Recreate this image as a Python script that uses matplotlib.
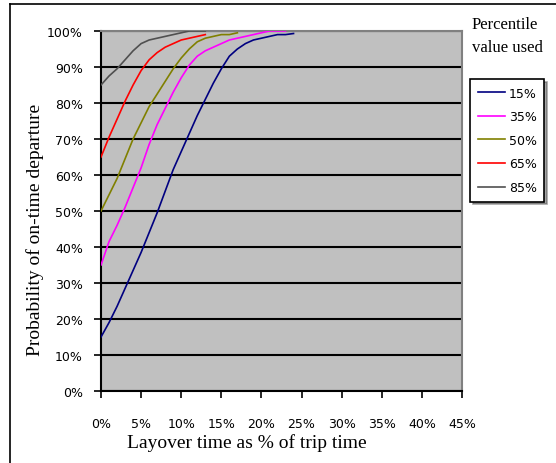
import matplotlib
matplotlib.use("Agg")
import matplotlib.pyplot as plt
from matplotlib.ticker import FuncFormatter, MultipleLocator
from matplotlib.lines import Line2D

# layover time (% of trip time) and probability of on-time departure (%)
labels = ['15%', '35%', '50%', '65%', '85%']
colors = ['#000080', '#FF00FF', '#808000', '#FF0000', '#505050']

p15 = [15, 19, 23.5, 28.5, 33.5, 38.5, 44, 49.5, 55.5, 61.5, 66.5, 71.5, 76.5,
       81, 85.5, 89.5, 93, 95, 96.5, 97.5, 98, 98.5, 99, 99, 99.3]
p35 = [35, 41.5, 46, 51, 56.5, 62, 68.5, 74, 78.5, 83, 87, 90.5, 93, 94.5,
       95.5, 96.5, 97.5, 98, 98.5, 99, 99.5, 100, 100, 100]
p50 = [50, 54.5, 59, 64.5, 70, 74.5, 79, 82.5, 86, 89.5, 92.5, 95, 97, 98,
       98.5, 99, 99, 99.5]
p65 = [65, 70.5, 75.5, 80.5, 85, 89, 92, 94, 95.5, 96.5, 97.5, 98, 98.5, 99]
p85 = [85, 87.5, 89.5, 92, 94.5, 96.5, 97.5, 98, 98.5, 99, 99.5, 100, 100, 100]
series = [p15, p35, p50, p65, p85]

W, H = 556, 464
fig = plt.figure(figsize=(W / 100, H / 100), dpi=100)
ax = fig.add_axes([101 / W, 1 - 392 / H, 361 / W, 360 / H])
ax.set_facecolor('#C0C0C0')

for ys, c, lab in zip(series, colors, labels):
    xs = list(range(len(ys)))
    ax.plot(xs, ys, color=c, lw=1.2, label=lab, zorder=3)

ax.set_xlim(0, 45)
ax.set_ylim(0, 100)
ax.xaxis.set_major_locator(MultipleLocator(5))
ax.yaxis.set_major_locator(MultipleLocator(10))
pct = FuncFormatter(lambda v, pos: '%d%%' % v)
ax.xaxis.set_major_formatter(pct)
ax.yaxis.set_major_formatter(pct)
ax.grid(axis='y', color='black', lw=1.5, zorder=1)
ax.set_axisbelow(True)
ax.tick_params(direction='out', length=5, width=1.2, labelsize=9, pad=3)
ax.tick_params(axis='x', pad=14)
ax.tick_params(axis='y', pad=8)
for s in ['left', 'bottom']:
    ax.spines[s].set_linewidth(1.5)
for s in ['top', 'right']:
    ax.spines[s].set_color('#808080')
    ax.spines[s].set_linewidth(1.5)

serif = 'Liberation Serif'
fig.text(247 / W, 1 - 443 / H, 'Layover time as % of trip time',
         family=serif, fontsize=14, ha='center', va='center')
fig.text(35 / W, 1 - 230 / H, 'Probability of on-time departure',
         family=serif, fontsize=14, ha='center', va='center', rotation=90)

fig.text(472 / W, 1 - 25 / H, 'Percentile', family=serif, fontsize=12,
         ha='left', va='center')
fig.text(472 / W, 1 - 48 / H, 'value used', family=serif, fontsize=12,
         ha='left', va='center')

leg = ax.legend(loc='upper left', bbox_to_anchor=(470 / W, 1 - 80 / H),
                bbox_transform=fig.transFigure, fontsize=9, frameon=True,
                fancybox=False, shadow=True, handlelength=2.2,
                handletextpad=0.3, labelspacing=0.85, borderpad=0.6,
                borderaxespad=0)
leg.get_frame().set_edgecolor('black')
leg.get_frame().set_linewidth(1.2)

# outer frame of the chart
fig.add_artist(Line2D([10 / W, 10 / W], [0, 1 - 5 / H], color='black', lw=1.2))
fig.add_artist(Line2D([10 / W, 1], [1 - 5 / H, 1 - 5 / H], color='black', lw=1.2))

fig.savefig('out.png', dpi=100)
